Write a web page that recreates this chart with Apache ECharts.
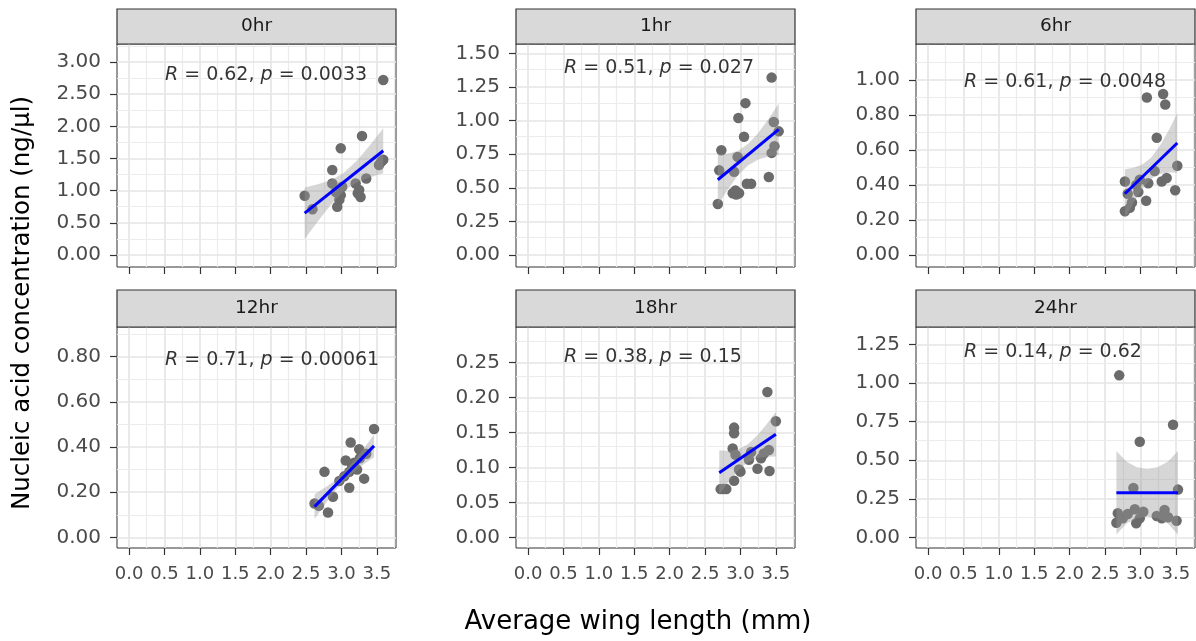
<!DOCTYPE html>
<html><head><meta charset="utf-8">
<script src="https://cdn.jsdelivr.net/npm/echarts@6/dist/echarts.min.js"></script>
<style>html,body{margin:0;padding:0;background:#fff;}#c{width:1196px;height:641px;}</style>
</head><body><div id="c"></div>
<script>
// ---------- data ----------
const panels = ['0hr', '1hr', '6hr', '12hr', '18hr', '24hr'];
const xTicks = [0, 0.5, 1, 1.5, 2, 2.5, 3, 3.5];
const yTicks0hr = [0, 0.5, 1, 1.5, 2, 2.5, 3];
const yTicks1hr = [0, 0.25, 0.5, 0.75, 1, 1.25, 1.5];
const yTicks6hr = [0, 0.2, 0.4, 0.6, 0.8, 1.0];
const yTicks12hr = [0, 0.2, 0.4, 0.6, 0.8];
const yTicks18hr = [0, 0.05, 0.1, 0.15, 0.2, 0.25];
const yTicks24hr = [0, 0.25, 0.5, 0.75, 1.0, 1.25];

const pts0hr = [[3.59,2.72],[3.29,1.85],[2.99,1.66],[2.87,1.32],[2.87,1.11],[2.48,0.92],[2.59,0.71],[2.94,0.75],[2.99,0.93],[3.01,1.06],[3.20,1.11],[3.25,1.01],[3.27,0.90],[3.35,1.19],[3.53,1.40],[3.59,1.48],[2.97,0.86],[3.23,0.96],[3.56,1.45],[2.92,0.98]];
const pts1hr = [[3.44,1.32],[3.07,1.13],[2.97,1.02],[3.05,0.88],[3.47,0.99],[3.54,0.92],[2.73,0.78],[2.96,0.73],[3.48,0.81],[3.44,0.76],[2.70,0.63],[2.91,0.62],[3.15,0.53],[3.09,0.53],[3.40,0.58],[2.89,0.46],[2.98,0.46],[2.93,0.48],[2.68,0.38],[2.94,0.45]];
const pts6hr = [[3.09,0.90],[3.32,0.92],[3.35,0.86],[3.23,0.67],[3.52,0.51],[2.78,0.42],[3.49,0.37],[3.30,0.42],[3.37,0.44],[3.20,0.48],[3.11,0.41],[2.99,0.43],[2.97,0.36],[2.82,0.35],[2.88,0.30],[3.08,0.31],[2.78,0.25],[2.85,0.27],[2.94,0.40]];
const pts12hr = [[3.46,0.48],[3.13,0.42],[3.25,0.39],[2.76,0.29],[3.32,0.26],[3.11,0.22],[2.88,0.18],[2.62,0.15],[2.81,0.11],[3.06,0.34],[3.15,0.32],[3.11,0.29],[3.22,0.30],[3.04,0.27],[2.97,0.25],[3.18,0.33],[3.26,0.35],[2.68,0.14],[3.35,0.37]];
const pts18hr = [[3.38,0.208],[3.50,0.166],[2.91,0.157],[2.91,0.149],[2.89,0.127],[3.40,0.125],[3.29,0.113],[2.93,0.118],[2.98,0.097],[3.24,0.098],[3.41,0.095],[2.91,0.081],[2.72,0.069],[2.80,0.069],[3.12,0.111],[3.15,0.122],[3.00,0.094],[2.76,0.069],[3.33,0.120]];
const pts24hr = [[2.70,1.05],[3.46,0.73],[2.99,0.62],[2.90,0.32],[3.53,0.31],[2.68,0.157],[2.66,0.096],[2.75,0.124],[2.82,0.152],[2.92,0.183],[2.99,0.124],[2.94,0.092],[3.04,0.167],[3.23,0.139],[3.34,0.178],[3.39,0.131],[3.51,0.109],[3.30,0.124]];

const fit0hr = [[2.48,0.65],[3.59,1.62]];
const fit1hr = [[2.68,0.56],[3.54,0.935]];
const fit6hr = [[2.78,0.35],[3.52,0.64]];
const fit12hr = [[2.62,0.136],[3.46,0.405]];
const fit18hr = [[2.70,0.0925],[3.50,0.1475]];
const fit24hr = [[2.66,0.29],[3.53,0.29]];

const ribX0hr = [2.48,2.665,2.85,3.035,3.22,3.405,3.59];
const ribLo0hr = [0.25,0.52,0.78,1.00,1.13,1.21,1.27];
const ribHi0hr = [1.05,1.10,1.16,1.28,1.47,1.71,1.97];
const ribX1hr = [2.68,2.823,2.967,3.11,3.253,3.397,3.54];
const ribLo1hr = [0.37,0.49,0.595,0.668,0.71,0.733,0.745];
const ribHi1hr = [0.75,0.752,0.775,0.828,0.91,1.013,1.125];
const ribX6hr = [2.78,2.903,3.027,3.15,3.273,3.397,3.52];
const ribLo6hr = [0.21,0.298,0.377,0.435,0.463,0.472,0.47];
const ribHi6hr = [0.49,0.498,0.517,0.555,0.623,0.712,0.81];
const ribX12hr = [2.62,2.76,2.90,3.04,3.18,3.32,3.46];
const ribLo12hr = [0.081,0.144,0.202,0.251,0.291,0.325,0.355];
const ribHi12hr = [0.191,0.218,0.25,0.291,0.339,0.395,0.455];
const ribX18hr = [2.70,2.833,2.967,3.10,3.233,3.367,3.50];
const ribLo18hr = [0.0605,0.0797,0.0958,0.107,0.1132,0.1153,0.1155];
const ribHi18hr = [0.1245,0.1237,0.1258,0.133,0.1452,0.1613,0.1795];
const ribX24hr = [2.66,2.805,2.95,3.095,3.24,3.385,3.53];
const ribLo24hr = [0.02,0.09,0.125,0.135,0.125,0.09,0.02];
const ribHi24hr = [0.56,0.49,0.455,0.445,0.455,0.49,0.56];

const corR = ['0.62', '0.51', '0.61', '0.71', '0.38', '0.14'];
const corP = ['0.0033', '0.027', '0.0048', '0.00061', '0.15', '0.62'];
const corX = [0.5, 0.5, 0.5, 0.5, 0.5, 0.5];
const corY = [2.80, 1.39, 0.99, 0.785, 0.2586, 1.20];

const xTitle = 'Average wing length (mm)';
const yTitle = 'Nucleic acid concentration (ng/µl)';

// ---------- layout / style ----------
const FONT = 'DejaVu Sans';
const colLeft = [117, 516, 916];
const colW = 279;
const rows = [{strip: 9, stripH: 35, top: 44, h: 223}, {strip: 290, stripH: 37, top: 327, h: 221}];
const xRange = [-0.17, 3.77];
const yRanges = [[-0.187, 3.28], [-0.089, 1.57], [-0.069, 1.206], [-0.047, 0.931], [-0.0153, 0.301], [-0.068, 1.363]];

const yTicksAll = [yTicks0hr, yTicks1hr, yTicks6hr, yTicks12hr, yTicks18hr, yTicks24hr];
const ptsAll = [pts0hr, pts1hr, pts6hr, pts12hr, pts18hr, pts24hr];
const fitAll = [fit0hr, fit1hr, fit6hr, fit12hr, fit18hr, fit24hr];
const ribAll = [[ribX0hr, ribLo0hr, ribHi0hr], [ribX1hr, ribLo1hr, ribHi1hr], [ribX6hr, ribLo6hr, ribHi6hr],
                [ribX12hr, ribLo12hr, ribHi12hr], [ribX18hr, ribLo18hr, ribHi18hr], [ribX24hr, ribLo24hr, ribHi24hr]];

function minorOf(ticks, range) {
  const step = ticks[1] - ticks[0];
  const out = [];
  for (let k = -1; k <= ticks.length; k++) {
    const v = ticks[0] + (k + 0.5) * step;
    if (v >= range[0] && v <= range[1]) out.push(v);
  }
  return out;
}

const grids = [], xAxes = [], yAxes = [], series = [], graphics = [];
panels.forEach((name, i) => {
  const r = Math.floor(i / 3), c = i % 3;
  const row = rows[r];
  const yT = yTicksAll[i];
  const yR = yRanges[i];
  grids.push({left: colLeft[c], top: row.top, width: colW, height: row.h, show: true,
    borderColor: '#333333', borderWidth: 1, backgroundColor: '#ffffff', containLabel: false});
  xAxes.push({type: 'value', gridIndex: i, min: xRange[0], max: xRange[1],
    axisLine: {show: false, onZero: false}, splitLine: {show: false},
    axisTick: {show: true, customValues: xTicks, length: 7, lineStyle: {color: '#333333', width: 1.2}},
    axisLabel: {show: r === 1, customValues: xTicks, formatter: v => v.toFixed(1), fontFamily: FONT,
      fontSize: 18, color: '#4A4A4A', margin: 17}});
  yAxes.push({type: 'value', gridIndex: i, min: yR[0], max: yR[1],
    axisLine: {show: false, onZero: false}, splitLine: {show: false},
    axisTick: {show: true, customValues: yT, length: 7, lineStyle: {color: '#333333', width: 1.2}},
    axisLabel: {show: true, customValues: yT, formatter: v => v.toFixed(2), fontFamily: FONT,
      fontSize: 20, color: '#4A4A4A', margin: 16}});

  const major = '#E4E4E4', minor = '#ECECEC';
  const gl = [];
  xTicks.forEach(v => gl.push({xAxis: v, lineStyle: {color: major, width: 1.6}}));
  minorOf(xTicks, xRange).forEach(v => gl.push({xAxis: v, lineStyle: {color: minor, width: 1.2}}));
  yT.forEach(v => gl.push({yAxis: v, lineStyle: {color: major, width: 1.6}}));
  minorOf(yT, yR).forEach(v => gl.push({yAxis: v, lineStyle: {color: minor, width: 1.2}}));

  series.push({type: 'scatter', xAxisIndex: i, yAxisIndex: i, data: ptsAll[i], symbolSize: 10.5, z: 3,
    itemStyle: {color: '#6B6B6B', opacity: 1}, silent: true,
    markLine: {silent: true, z: 1, symbol: ['none', 'none'], animation: false, label: {show: false},
      lineStyle: {type: 'solid'}, data: gl}});

  const rb = ribAll[i];
  const ribData = rb[0].map((x, k) => [x, rb[1][k], rb[2][k]]);
  series.push({type: 'custom', xAxisIndex: i, yAxisIndex: i, z: 4, silent: true, data: ribData,
    renderItem: (params, api) => {
      if (params.dataIndex !== 0) return null;
      const p = [];
      ribData.forEach(d => p.push(api.coord([d[0], d[1]])));
      for (let k = ribData.length - 1; k >= 0; k--) p.push(api.coord([ribData[k][0], ribData[k][2]]));
      return {type: 'polygon', shape: {points: p}, style: {fill: 'rgba(153,153,153,0.4)', stroke: null}};
    }});

  series.push({type: 'line', xAxisIndex: i, yAxisIndex: i, data: fitAll[i], z: 5, silent: true,
    symbol: 'none', lineStyle: {color: '#0000FF', width: 3}});

  series.push({type: 'scatter', xAxisIndex: i, yAxisIndex: i, z: 6, silent: true,
    data: [[corX[i], corY[i]]], symbolSize: 1, itemStyle: {color: 'rgba(0,0,0,0)'},
    label: {show: true, position: 'right', distance: 0,
      formatter: '{i|R}{n| = ' + corR[i] + ', }{i|p}{n| = ' + corP[i] + '}',
      rich: {i: {fontFamily: FONT, fontSize: 19, fontStyle: 'italic', color: '#000000'},
             n: {fontFamily: FONT, fontSize: 19, color: '#000000'}}}});

  graphics.push({type: 'rect', z: 10, shape: {x: colLeft[c], y: row.strip, width: colW, height: row.stripH},
    style: {fill: '#D9D9D9', stroke: '#333333', lineWidth: 1.2}, silent: true});
  graphics.push({type: 'text', z: 11, x: colLeft[c] + colW / 2, y: row.strip + row.stripH / 2, silent: true,
    style: {text: name, x: 0, y: 0, align: 'center', verticalAlign: 'middle', textAlign: 'center',
      textVerticalAlign: 'middle', font: '18.5px "' + FONT + '"', fill: '#1A1A1A'}});
});

graphics.push({type: 'text', z: 11, x: 638, y: 622, silent: true,
  style: {text: xTitle, x: 0, y: 0, align: 'center', verticalAlign: 'middle', textAlign: 'center',
    textVerticalAlign: 'middle', font: '26px "' + FONT + '"', fill: '#000000'}});
graphics.push({type: 'text', z: 11, x: 23, y: 303, rotation: Math.PI / 2, silent: true,
  style: {text: yTitle, x: 0, y: 0, align: 'center', verticalAlign: 'middle', textAlign: 'center',
    textVerticalAlign: 'middle', font: '24.5px "' + FONT + '"', fill: '#000000'}});

const chart = echarts.init(document.getElementById('c'), null, {renderer: 'canvas'});
chart.setOption({
  animation: false,
  backgroundColor: '#ffffff',
  grid: grids, xAxis: xAxes, yAxis: yAxes, series: series, graphic: graphics
});
</script></body></html>
